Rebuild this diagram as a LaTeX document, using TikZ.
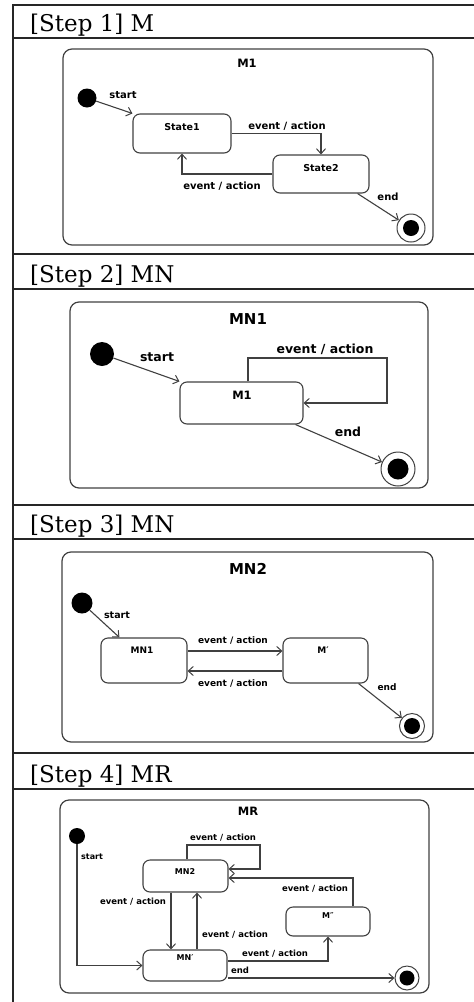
\documentclass[tikz,border=0pt]{standalone}
\usepackage{fontspec}
\setmainfont{DejaVu Serif}
\newfontfamily\lbl{DejaVu Sans}
\usetikzlibrary{arrows.meta}
\begin{document}
\begin{tikzpicture}[x=1pt,y=-1pt,
  frame/.style={line width=1.4pt, draw=black!85},
  panel/.style={draw=black!75, line width=1.2pt, rounded corners=9pt},
  st/.style={draw=black!75, line width=1.1pt, rounded corners=7pt, rectangle, inner sep=0pt},
  tr/.style={draw=black!75, line width=1.1pt, -{Straight Barb[length=5pt,width=9pt,line width=1pt]}},
  ini/.style={circle, fill=black, inner sep=0pt, minimum size=#1},
  fin/.style={circle, draw=black!75, line width=1pt, inner sep=0pt, minimum size=#1},
  hd/.style={font=\fontsize{23pt}{25pt}\selectfont, inner sep=0pt, anchor=base west},
  la/.style={font=\lbl\bfseries\fontsize{#1}{#1}\selectfont, inner sep=0pt},
]
\useasboundingbox (0,0) rectangle (474,1002);
% outer table frame
\draw[frame] (474,5) -- (13,5) -- (13,1002);
\foreach \yy in {38,254,289,505,539,753,789} \draw[frame] (13,\yy) -- (474,\yy);
\node[hd] (h1) at (30,31) {[Step 1] M};
\node[hd] (h2) at (30,282) {[Step 2] MN};
\node[hd] (h3) at (30,532) {[Step 3] MN};
\node[hd] (h4) at (30,782) {[Step 4] MR};

% ---------- Panel 1 ----------
\draw[panel] (63,49) rectangle (433,245);
\node[la=11.5pt] (t1) at (247,63) {M1};
\node[ini=19pt] (i1) at (87,98) {};
\node[st, minimum width=98pt, minimum height=39pt] (s1) at (182,133.5) {};
\node[la=9.5pt] (s1t) at (182,127) {State1};
\node[st, minimum width=96pt, minimum height=38pt] (s2) at (321,174) {};
\node[la=9.5pt] (s2t) at (321,168) {State2};
\node[fin=28pt] (f1) at (411,228) {};
\fill (f1.center) circle (8pt);
\draw[tr] (i1) -- (s1.north west);
\node[la=10pt] (a1) at (123,95) {start};
\draw[tr] (s1.east) -| (s2.north);
\node[la=10pt] (a2) at (287,126) {event / action};
\draw[tr] (s2.west) -| (s1.south);
\node[la=10pt] (a3) at (222,186) {event / action};
\draw[tr] ([xshift=-12pt]s2.south east) -- (f1);
\node[la=10pt] (a4) at (388,197) {end};

% ---------- Panel 2 ----------
\draw[panel] (70,302) rectangle (428,488);
\node[la=15pt] (t2) at (248,319) {MN1};
\node[ini=24pt] (i2) at (102,354) {};
\node[st, minimum width=123pt, minimum height=42pt] (m1) at (241.5,403) {};
\node[la=11.5pt] (m1t) at (242,395) {M1};
\node[fin=34pt] (f2) at (398,469) {};
\fill (f2.center) circle (10.5pt);
\draw[tr] (i2) -- (m1.north west);
\node[la=12.5pt] (b1) at (157,357) {start};
\coordinate (l2) at (387,358);
\draw[tr] ([xshift=6.5pt]m1.north) |- (l2) |- (m1.east);
\node[la=12.5pt] (b2) at (325,349) {event / action};
\draw[tr] ([xshift=-8pt]m1.south east) -- (f2);
\node[la=12.5pt] (b3) at (348,432) {end};

% ---------- Panel 3 ----------
\draw[panel] (62,552) rectangle (433,742);
\node[la=15pt] (t3) at (248,569) {MN2};
\node[ini=21pt] (i3) at (82,603) {};
\node[st, minimum width=86pt, minimum height=45pt] (n1) at (144,660.5) {};
\node[la=9pt] (n1t) at (142,650) {MN1};
\node[st, minimum width=85pt, minimum height=45pt] (mp) at (325.5,660.5) {};
\node[la=9pt] (mpt) at (323,650) {M′};
\node[fin=25pt] (f3) at (412,726) {};
\fill (f3.center) circle (8pt);
\draw[tr] (i3) -- ([xshift=19pt]n1.north west);
\node[la=9.5pt] (c1) at (117,615) {start};
\draw[tr] ([yshift=9.5pt]n1.east) -- ([yshift=9.5pt]mp.west);
\node[la=9pt] (c2) at (233,640) {event / action};
\draw[tr] ([yshift=-10.5pt]mp.west) -- ([yshift=-10.5pt]n1.east);
\node[la=9pt] (c3) at (233,683) {event / action};
\draw[tr] ([xshift=-10pt]mp.south east) -- (f3);
\node[la=9pt] (c4) at (387,687) {end};

% ---------- Panel 4 ----------
\draw[panel] (60,800) rectangle (429,993);
\node[la=11.5pt] (t4) at (248,811) {MR};
\node[ini=16pt] (i4) at (77,836) {};
\node[st, minimum width=85pt, minimum height=32pt] (mn2) at (185.5,876) {};
\node[la=8pt] (mn2t) at (185,872) {MN2};
\node[st, minimum width=84pt, minimum height=31pt] (mnp) at (185,965.5) {};
\node[la=8pt] (mnpt) at (185,958) {MN′};
\node[st, minimum width=84pt, minimum height=29pt] (mpp) at (328,921.5) {};
\node[la=8pt] (mppt) at (328,916) {M″};
\node[fin=24pt] (f4) at (407,978) {};
\fill (f4.center) circle (7.5pt);
\draw[tr] (i4) |- (mnp.west);
\node[la=8pt, anchor=west] (d1) at (81,857) {start};
\coordinate (l4) at (260,845);
\draw[tr] ([xshift=1.5pt]mn2.north) |- (l4) |- ([yshift=7pt]mn2.east);
\node[la=8.5pt] (d2) at (223,838) {event / action};
\draw[tr] ([xshift=25pt]mpp.north) |- ([yshift=-2pt]mn2.east);
\node[la=8.5pt] (d3) at (315,889) {event / action};
\draw[tr] ([xshift=-14.5pt]mn2.south) -- ([xshift=-14.5pt]mn2.south |- mnp.north);
\node[la=8.5pt] (d4) at (133,902) {event / action};
\draw[tr] ([xshift=12pt]mnp.north) -- ([xshift=12pt]mnp.north |- mn2.south);
\node[la=8.5pt] (d5) at (235,935) {event / action};
\draw[tr] ([yshift=4.5pt]mnp.east) -| (mpp.south);
\node[la=8.5pt] (d6) at (275,954) {event / action};
\draw[tr] ([yshift=-12.5pt]mnp.east) -- (f4.west);
\node[la=8.5pt] (d7) at (240,970) {end};
\end{tikzpicture}
\end{document}
